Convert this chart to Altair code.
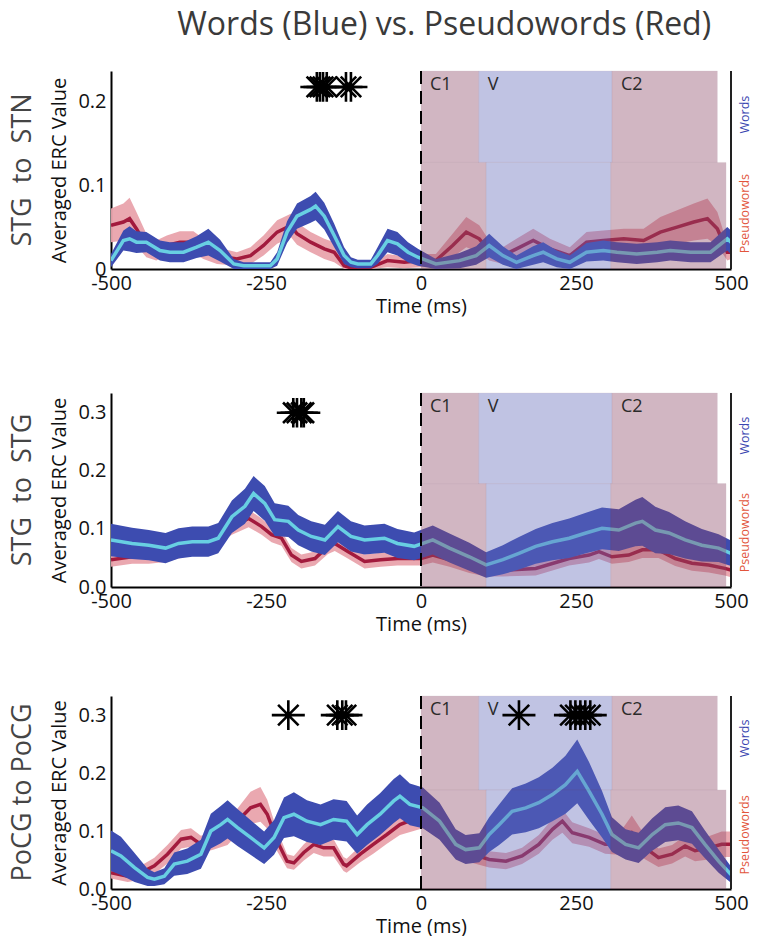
import altair as alt
import pandas as pd

FONT = "Open Sans"
X_TICKS = [-500, -250, 0, 250, 500]
WIDTH = 620

# ---------------- Panel 1: STG to STN ----------------
p1_words_t = [-500, -480, -470, -459, -443, -421, -405, -383, -362, -343, -324, -302, -286, -243, -232, -216, -200, -178,
              -170, -156, -140, -124, -113, -102, -81, -70, -54, -38, -21, -5, 24, 62, 89, 110, 132, 154, 181, 197, 219,
              240, 267, 294, 316, 348, 381, 402, 435, 467, 494, 500]
p1_words_m = [0.010, 0.034, 0.036, 0.032, 0.032, 0.022, 0.020, 0.020, 0.026, 0.032, 0.022, 0.006, 0.004, 0.004, 0.012,
              0.044, 0.063, 0.071, 0.075, 0.063, 0.040, 0.016, 0.008, 0.006, 0.006, 0.016, 0.034, 0.030, 0.020, 0.014,
              0.006, 0.010, 0.016, 0.028, 0.016, 0.008, 0.016, 0.020, 0.012, 0.008, 0.020, 0.022, 0.020, 0.018, 0.020,
              0.022, 0.020, 0.020, 0.036, 0.032]
p1_words_h = [0.008, 0.012, 0.015, 0.013, 0.012, 0.012, 0.012, 0.012, 0.013, 0.016, 0.013, 0.006, 0.004, 0.004, 0.008,
              0.013, 0.015, 0.016, 0.017, 0.016, 0.014, 0.010, 0.006, 0.005, 0.005, 0.010, 0.014, 0.014, 0.012, 0.010,
              0.006, 0.009, 0.011, 0.014, 0.011, 0.008, 0.011, 0.012, 0.010, 0.008, 0.011, 0.012, 0.012, 0.012, 0.012,
              0.012, 0.012, 0.012, 0.014, 0.014]
p1_pseudo_t = [-500, -480, -470, -459, -443, -427, -410, -389, -367, -351, -329, -297, -275, -254, -232, -210, -200, -178,
               -156, -140, -124, -108, -81, -54, -27, 0, 24, 51, 73, 94, 110, 132, 154, 181, 208, 240, 267, 294, 327,
               359, 386, 413, 440, 462, 478, 494, 500]
p1_pseudo_m = [0.052, 0.056, 0.060, 0.048, 0.028, 0.022, 0.028, 0.032, 0.032, 0.024, 0.016, 0.012, 0.016, 0.028, 0.044,
               0.052, 0.042, 0.032, 0.024, 0.020, 0.004, 0.000, 0.002, 0.010, 0.008, 0.010, 0.010, 0.028, 0.044, 0.036,
               0.022, 0.016, 0.024, 0.034, 0.024, 0.016, 0.032, 0.034, 0.036, 0.034, 0.044, 0.050, 0.056, 0.060, 0.048,
               0.020, 0.020]
p1_pseudo_h = [0.020, 0.022, 0.025, 0.020, 0.014, 0.012, 0.012, 0.013, 0.013, 0.012, 0.010, 0.008, 0.010, 0.012, 0.014,
               0.014, 0.013, 0.012, 0.012, 0.012, 0.004, 0.002, 0.003, 0.008, 0.007, 0.008, 0.008, 0.014, 0.018, 0.016,
               0.012, 0.010, 0.012, 0.014, 0.012, 0.010, 0.012, 0.012, 0.012, 0.014, 0.018, 0.020, 0.022, 0.024, 0.020,
               0.010, 0.008]
p1_stars_t = [-168, -163, -158, -152, -121, -113]
p1_stars_y = 0.217

# ---------------- Panel 2: STG to STG ----------------
p2_words_t = [-500, -466, -439, -412, -391, -369, -343, -327, -305, -284, -270, -252, -236, -214, -198, -177, -155, -134,
              -113, -91, -59, -38, -11, 19, 46, 78, 105, 132, 158, 185, 212, 239, 266, 292, 319, 346, 357, 378, 400,
              426, 453, 480, 500]
p2_words_m = [0.081, 0.075, 0.072, 0.067, 0.075, 0.078, 0.078, 0.084, 0.121, 0.139, 0.161, 0.144, 0.116, 0.113, 0.098,
              0.087, 0.081, 0.104, 0.087, 0.081, 0.084, 0.075, 0.070, 0.081, 0.067, 0.052, 0.038, 0.047, 0.058, 0.070,
              0.078, 0.084, 0.093, 0.101, 0.098, 0.110, 0.113, 0.098, 0.093, 0.081, 0.072, 0.067, 0.058]
p2_words_h = [0.028, 0.027, 0.026, 0.026, 0.026, 0.026, 0.026, 0.026, 0.028, 0.030, 0.030, 0.030, 0.028, 0.027, 0.026,
              0.026, 0.026, 0.027, 0.026, 0.025, 0.025, 0.025, 0.024, 0.025, 0.025, 0.024, 0.022, 0.025, 0.028, 0.030,
              0.032, 0.034, 0.035, 0.036, 0.036, 0.040, 0.042, 0.040, 0.036, 0.032, 0.028, 0.024, 0.022]
p2_pseudo_t = [-500, -466, -439, -412, -380, -337, -305, -278, -257, -241, -225, -209, -193, -171, -150, -139, -118, -91,
               -65, -38, -11, 0, 19, 46, 78, 105, 132, 185, 239, 271, 287, 308, 335, 357, 383, 410, 437, 464, 490, 500]
p2_pseudo_m = [0.047, 0.052, 0.052, 0.055, 0.064, 0.081, 0.104, 0.118, 0.104, 0.090, 0.084, 0.055, 0.044, 0.049, 0.070,
               0.075, 0.061, 0.044, 0.047, 0.049, 0.049, 0.049, 0.055, 0.047, 0.035, 0.029, 0.029, 0.032, 0.049, 0.055,
               0.061, 0.052, 0.055, 0.064, 0.064, 0.049, 0.041, 0.038, 0.032, 0.029]
p2_pseudo_h = [0.012, 0.012, 0.012, 0.012, 0.012, 0.013, 0.014, 0.015, 0.014, 0.013, 0.013, 0.012, 0.012, 0.012, 0.013,
               0.013, 0.012, 0.012, 0.012, 0.012, 0.012, 0.012, 0.013, 0.012, 0.011, 0.011, 0.011, 0.012, 0.012, 0.013,
               0.013, 0.012, 0.012, 0.014, 0.014, 0.013, 0.013, 0.013, 0.012, 0.012]
p2_stars_t = [-206, -200, -193, -189]
p2_stars_y = 0.300

# ---------------- Panel 3: PoCG to PoCG ----------------
p3_words_t = [-500, -484, -462, -441, -430, -414, -398, -377, -355, -339, -323, -312, -296, -275, -253, -237, -221, -205,
              -184, -162, -141, -120, -103, -87, -66, -44, -34, -18, 3, 30, 56, 72, 94, 110, 126, 147, 169, 190, 212,
              233, 252, 271, 292, 308, 330, 351, 373, 394, 415, 437, 458, 480, 500]
p3_words_m = [0.066, 0.057, 0.037, 0.020, 0.017, 0.022, 0.043, 0.048, 0.060, 0.100, 0.111, 0.120, 0.106, 0.089, 0.071,
              0.089, 0.123, 0.129, 0.117, 0.111, 0.120, 0.117, 0.094, 0.111, 0.129, 0.152, 0.160, 0.146, 0.140, 0.117,
              0.077, 0.068, 0.071, 0.094, 0.111, 0.134, 0.140, 0.149, 0.163, 0.180, 0.203, 0.169, 0.129, 0.094, 0.077,
              0.071, 0.094, 0.111, 0.114, 0.106, 0.077, 0.048, 0.025]
p3_words_h = [0.035, 0.033, 0.025, 0.015, 0.012, 0.014, 0.020, 0.022, 0.025, 0.030, 0.032, 0.033, 0.032, 0.030, 0.028,
              0.030, 0.035, 0.038, 0.036, 0.035, 0.035, 0.035, 0.033, 0.035, 0.036, 0.038, 0.038, 0.036, 0.035, 0.032,
              0.026, 0.025, 0.025, 0.030, 0.035, 0.040, 0.042, 0.044, 0.046, 0.050, 0.055, 0.050, 0.040, 0.030, 0.026,
              0.026, 0.028, 0.030, 0.030, 0.028, 0.024, 0.020, 0.014]
p3_pseudo_t = [-500, -473, -452, -430, -409, -387, -371, -355, -334, -312, -296, -275, -259, -248, -232, -216, -205, -189,
               -173, -157, -141, -125, -120, -98, -77, -55, -34, -12, 3, 30, 56, 83, 110, 137, 163, 190, 212, 228, 244,
               271, 297, 319, 340, 362, 383, 405, 426, 442, 464, 485, 500]
p3_pseudo_m = [0.028, 0.022, 0.028, 0.040, 0.060, 0.086, 0.089, 0.077, 0.083, 0.094, 0.117, 0.140, 0.146, 0.129, 0.083,
               0.048, 0.045, 0.063, 0.077, 0.071, 0.071, 0.043, 0.040, 0.060, 0.077, 0.094, 0.111, 0.120, 0.125, 0.106,
               0.077, 0.060, 0.051, 0.048, 0.057, 0.077, 0.103, 0.117, 0.097, 0.089, 0.077, 0.077, 0.097, 0.071, 0.054,
               0.060, 0.074, 0.066, 0.071, 0.077, 0.077]
p3_pseudo_h = [0.010, 0.010, 0.012, 0.014, 0.016, 0.016, 0.016, 0.015, 0.015, 0.018, 0.022, 0.028, 0.030, 0.025, 0.018,
               0.012, 0.012, 0.014, 0.015, 0.015, 0.015, 0.012, 0.012, 0.014, 0.016, 0.016, 0.018, 0.020, 0.020, 0.018,
               0.016, 0.015, 0.014, 0.014, 0.014, 0.016, 0.018, 0.020, 0.018, 0.016, 0.016, 0.018, 0.030, 0.020, 0.016,
               0.016, 0.018, 0.018, 0.020, 0.022, 0.022]
p3_stars_t = [-214, -135, -127, -121, 158, 241, 249, 257, 265, 273]
p3_stars_y = 0.300

# ---------------- Speech segments (ms) ----------------
seg_names = ["C1", "V", "C2"]
seg_kind = ["C", "V", "C"]
words_seg_start = [0, 93, 308]
words_seg_end = [93, 308, 478]
pseudo_seg_start = [0, 105, 306]
pseudo_seg_end = [105, 306, 492]

# ---------------- Styling ----------------
BLUE_BAND = "#3d4cb0"
CYAN = "#68cfe2"
RED_BAND = "#e9a3ac"
RED_LINE = "#a21a3d"
MAUVE = "#8e4b69"
LAVENDER = "#646bbb"
STAR = "M-1,0L1,0M0,-0.9L0,0.9M-0.62,-0.62L0.62,0.62M-0.62,0.62L0.62,-0.62"


def series_df(t, m, h):
    df = pd.DataFrame({"t": t, "m": m, "h": h})
    df["lo"] = (df["m"] - df["h"]).clip(lower=0)
    df["hi"] = df["m"] + df["h"]
    return df


def panel(name, wt, wm, wh, pt, pm, ph, st, sy, ymax, yvals, yfmt, split, height):
    words = series_df(wt, wm, wh)
    pseudo = series_df(pt, pm, ph)

    xaxis = alt.Axis(values=X_TICKS, title="Time (ms)", labelExpr="'' + datum.value", labelFlush=False)
    if yfmt is None:
        yaxis = alt.Axis(values=yvals, title="Averaged ERC Value", labelExpr="'' + datum.value")
    else:
        yaxis = alt.Axis(values=yvals, title="Averaged ERC Value", format=yfmt)
    xs = alt.Scale(domain=[-500, 500], nice=False, zero=False)
    ys = alt.Scale(domain=[0, ymax], nice=False, zero=False)

    def X(f="t"):
        return alt.X(f"{f}:Q", scale=xs, axis=xaxis)

    def Y(f):
        return alt.Y(f"{f}:Q", scale=ys, axis=yaxis)

    red_band = alt.Chart(pseudo).mark_area(color=RED_BAND, opacity=0.95, clip=True).encode(
        x=X(), y=Y("lo"), y2="hi:Q")
    red_line = alt.Chart(pseudo).mark_line(color=RED_LINE, strokeWidth=3.5, clip=True).encode(
        x=X(), y=Y("m"))
    blue_band = alt.Chart(words).mark_area(color=BLUE_BAND, opacity=1, clip=True).encode(
        x=X(), y=Y("lo"), y2="hi:Q")
    cyan_line = alt.Chart(words).mark_line(color=CYAN, strokeWidth=3.5, clip=True).encode(
        x=X(), y=Y("m"))

    segs = pd.DataFrame({
        "x0": words_seg_start + pseudo_seg_start,
        "x1": words_seg_end + pseudo_seg_end,
        "y0": [split] * 3 + [0] * 3,
        "y1": [ymax] * 3 + [split] * 3,
        "kind": seg_kind + seg_kind,
    })
    rects = alt.Chart(segs).mark_rect(opacity=0.4, stroke="#7a4a66", strokeWidth=0.6, strokeOpacity=0.35).encode(
        x=X("x0"), x2="x1:Q", y=Y("y0"), y2="y1:Q",
        color=alt.Color("kind:N", scale=alt.Scale(domain=["C", "V"], range=[MAUVE, LAVENDER]), legend=None))

    zero = alt.Chart(pd.DataFrame({"t": [0]})).mark_rule(
        color="black", strokeWidth=2, strokeDash=[13, 7]).encode(x=X())
    right = alt.Chart(pd.DataFrame({"t": [500]})).mark_rule(color="#222", strokeWidth=2).encode(x=X())

    stars = alt.Chart(pd.DataFrame({"t": st, "y": [sy] * len(st)})).mark_point(
        shape=STAR, size=1090, filled=False, color="black", strokeWidth=2.6, opacity=1).encode(x=X(), y=Y("y"))

    seg_labels = alt.Chart(pd.DataFrame({"t": words_seg_start, "y": [ymax] * 3, "label": seg_names})).mark_text(
        align="left", baseline="top", dx=9, dy=5, fontSize=18, font=FONT, color="#2a2a2a").encode(
        x=X(), y=Y("y"), text="label:N")

    side = pd.DataFrame({"label": ["Words", "Pseudowords"]})
    words_lab = alt.Chart(side.iloc[[0]]).mark_text(
        angle=270, fontSize=12.5, font=FONT, color="#3a46b0", align="center", baseline="middle").encode(
        x=alt.value(WIDTH + 14), y=alt.value(height * 0.22), text="label:N")
    pseudo_lab = alt.Chart(side.iloc[[1]]).mark_text(
        angle=270, fontSize=12.5, font=FONT, color="#e2553c", align="center", baseline="middle").encode(
        x=alt.value(WIDTH + 14), y=alt.value(height * 0.72), text="label:N")

    return alt.layer(red_band, red_line, blue_band, cyan_line, rects, zero, right, stars, seg_labels,
                     words_lab, pseudo_lab).properties(
        width=WIDTH, height=height,
        title=alt.TitleParams(name, orient="left", anchor="middle", fontSize=27, font=FONT,
                              fontWeight="normal", color="#454545", offset=13))


c1 = panel("STG\u00a0 to\u00a0 STN", p1_words_t, p1_words_m, p1_words_h, p1_pseudo_t, p1_pseudo_m, p1_pseudo_h,
           p1_stars_t, p1_stars_y, 0.236, [0, 0.1, 0.2], None, 0.127, 198)
c2 = panel("STG\u00a0 to\u00a0 STG", p2_words_t, p2_words_m, p2_words_h, p2_pseudo_t, p2_pseudo_m, p2_pseudo_h,
           p2_stars_t, p2_stars_y, 0.334, [0, 0.1, 0.2, 0.3], ".1f", 0.178, 194)
c3 = panel("PoCG to PoCG", p3_words_t, p3_words_m, p3_words_h, p3_pseudo_t, p3_pseudo_m, p3_pseudo_h,
           p3_stars_t, p3_stars_y, 0.333, [0, 0.1, 0.2, 0.3], ".1f", 0.171, 193)

chart = alt.vconcat(c1, alt.vconcat(c2, c3, spacing=61), spacing=76).properties(
    title=alt.TitleParams("Words (Blue) vs. Pseudowords (Red)", fontSize=32, font=FONT, fontWeight="normal",
                          color="#3a3a3a", anchor="middle", offset=25, dx=64),
    padding={"left": 0, "top": 0, "right": 0, "bottom": 0},
).configure_view(strokeOpacity=0).configure_axis(
    grid=False, ticks=False, tickSize=0, domainColor="black", domainWidth=2,
    labelFont=FONT, labelFontSize=20, labelColor="#111",
    titleFont=FONT, titleFontSize=20, titleFontWeight="normal", titleColor="#111",
).configure_axisY(titlePadding=8, labelPadding=5).configure_axisX(titlePadding=3, labelPadding=4)

chart.save("out.html", embed_options={"renderer": "svg", "actions": False})
